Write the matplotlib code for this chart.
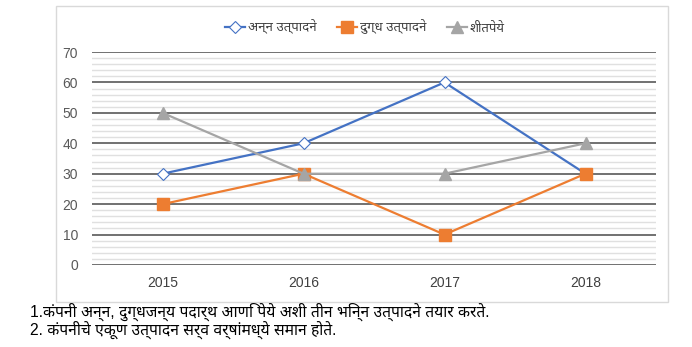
import matplotlib
matplotlib.use("Agg")
import matplotlib.pyplot as plt
from matplotlib import font_manager
from matplotlib.ft2font import FT2Font
from matplotlib.patches import Rectangle

# Data
years = ["2015", "2016", "2017", "2018"]
anna = [30, 40, 60, 30]
dugdha = [20, 30, 10, 30]
sheetpeye = [50, 30, 30, 40]
series_names = ["अन्न उत्पादने", "दुग्ध उत्पादने", "शीतपेये"]
notes = [
    "1.कंपनी अन्न, दुग्धजन्य पदार्थ आणि पेये अशी तीन भिन्न उत्पादने तयार करते.",
    "2. कंपनीचे एकूण उत्पादन सर्व वर्षांमध्ये समान होते.",
]


def devanagari_family():
    # installed fonts that carry Devanagari glyphs, preferred ones first
    have = set()
    for f in font_manager.fontManager.ttflist:
        try:
            cmap = FT2Font(f.fname).get_charmap()
        except Exception:
            continue
        if 0x0915 in cmap:
            have.add(f.name)
    for name in ["Noto Sans Devanagari", "Hind", "Mukta", "Poppins",
                 "Tiro Devanagari Marathi", "Annapurna SIL", "Akshar"]:
        if name in have:
            return name
    return sorted(have)[0] if have else None


deva = devanagari_family()
families = ["Liberation Sans", "DejaVu Sans"]
if deva:
    families = ["Liberation Sans", deva, "DejaVu Sans"]
plt.rcParams["font.family"] = families

fig = plt.figure(figsize=(6.92, 3.47), dpi=100)
ax = fig.add_axes([92 / 692, 1 - 265 / 347, 564 / 692, 213 / 347])

# outer chart frame
fig.patches.append(Rectangle((56 / 692, 1 - 302 / 347), 612 / 692, 296 / 347,
                             transform=fig.transFigure, fill=False,
                             edgecolor="#d9d9d9", linewidth=1))

x = range(len(years))
ax.plot(x, anna, color="#4472C4", linewidth=1.6, marker="D", markersize=6,
        markerfacecolor="white", markeredgecolor="#4472C4", markeredgewidth=0.8,
        label=series_names[0], zorder=3)
ax.plot(x, dugdha, color="#ED7D31", linewidth=1.6, marker="s", markersize=8,
        label=series_names[1], zorder=3)
ax.plot(x, sheetpeye, color="#A5A5A5", linewidth=1.6, marker="^", markersize=8,
        label=series_names[2], zorder=3)

ax.set_xlim(-0.5, 3.5)
ax.set_ylim(0, 70)
ax.set_xticks(list(x))
ax.set_xticklabels(years, fontsize=10, color="#404040")
ax.set_yticks(range(0, 71, 10))
ax.set_yticklabels([str(v) for v in range(0, 71, 10)], fontsize=10, color="#595959")
ax.set_yticks(range(0, 71, 2), minor=True)
ax.tick_params(axis="both", which="both", length=0)
ax.tick_params(axis="y", pad=10)
ax.tick_params(axis="x", pad=8)
ax.grid(True, axis="y", which="minor", color="#e0e0e0", linewidth=1)
ax.grid(True, axis="y", which="major", color="#595959", linewidth=1.2)
ax.set_axisbelow(True)
for s in ax.spines.values():
    s.set_visible(False)

fig.legend(loc="center", bbox_to_anchor=(365 / 692, 1 - 27 / 347), ncol=3,
           frameon=False, fontsize=9.5, handlelength=1.5, handletextpad=0.2,
           columnspacing=1.6, labelcolor="#404040")

fig.text(30 / 692, 1 - 312 / 347, notes[0], fontsize=11.3, va="center", color="black")
fig.text(30 / 692, 1 - 330 / 347, notes[1], fontsize=11.3, va="center", color="black")

fig.savefig("out.png", dpi=100)
